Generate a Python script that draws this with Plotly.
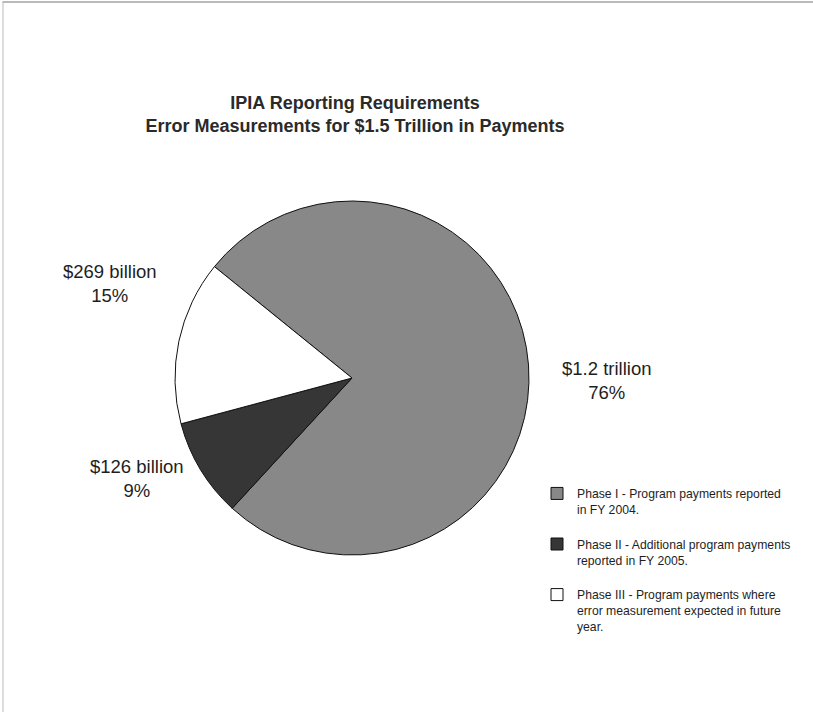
import plotly.graph_objects as go

W, H = 813, 712

# ---- data ----
phases = [
    "Phase I - Program payments reported<br>in FY 2004.<br> ",
    "Phase II - Additional program payments<br>reported in FY 2005.<br> ",
    "Phase III - Program payments where<br>error measurement expected in future<br>year.",
]
shares = [76, 9, 15]
amounts = ["$1.2 trillion", "$126 billion", "$269 billion"]
pct_labels = ["76%", "9%", "15%"]
colors = ["#888888", "#363636", "#ffffff"]

title_lines = ["IPIA Reporting Requirements",
               "Error Measurements for $1.5 Trillion in Payments"]

# ---- layout helpers ----
cx, cy, r = 352, 378, 177
label_pos = [(606, 380), (137, 478), (110, 283)]

fig = go.Figure()
fig.add_trace(go.Pie(
    labels=phases,
    values=shares,
    sort=False,
    direction="clockwise",
    rotation=-51,
    marker=dict(colors=colors, line=dict(color="#111111", width=1)),
    textinfo="none",
    hoverinfo="label+percent",
    domain=dict(x=[(cx - r) / W, (cx + r) / W],
                y=[1 - (cy + r) / H, 1 - (cy - r) / H]),
    showlegend=True,
))

annotations = []
for (px, py), a, p in zip(label_pos, amounts, pct_labels):
    annotations.append(dict(
        x=px / W, y=1 - py / H, xref="paper", yref="paper",
        text=f"{a}<br>{p}", showarrow=False, align="center",
        xanchor="center", yanchor="middle",
        font=dict(family="Liberation Sans, Arial", size=18.5, color="#1e1e1e"),
    ))

fig.update_layout(
    width=W, height=H,
    margin=dict(l=0, r=0, t=0, b=0),
    paper_bgcolor="white",
    plot_bgcolor="white",
    title=dict(
        text="<b>" + "<br>".join(title_lines) + "</b>",
        x=355 / W, xanchor="center",
        y=1 - 109 / H, yanchor="middle", yref="container",
        font=dict(family="Liberation Sans, Arial", size=18, color="#2a2a2a"),
    ),
    legend=dict(
        x=537 / W, y=1 - 479 / H, xanchor="left", yanchor="top",
        valign="top",
        itemwidth=30,
        font=dict(family="Liberation Sans, Arial", size=12.2, color="#1e1e1e"),
        bgcolor="rgba(0,0,0,0)",
    ),
    annotations=annotations,
    shapes=[
        dict(type="line", xref="paper", yref="paper",
             x0=0.003, x1=1, y0=1 - 2 / H, y1=1 - 2 / H,
             line=dict(color="#777777", width=1)),
        dict(type="line", xref="paper", yref="paper",
             x0=3 / W, x1=3 / W, y0=0, y1=1 - 2 / H,
             line=dict(color="#bbbbbb", width=1)),
    ],
)

fig.write_html("out.html")
